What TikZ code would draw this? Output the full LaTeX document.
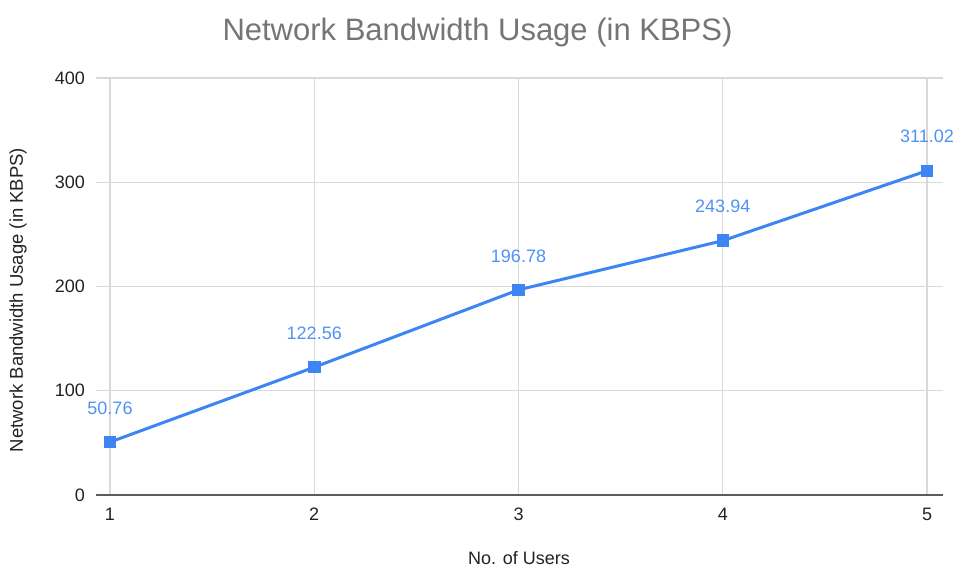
\documentclass[tikz,border=0pt]{standalone}
\usepackage{fontspec}
\setmainfont{Liberation Sans}
\definecolor{series}{HTML}{3D85F2}
\definecolor{labelblue}{HTML}{4F92F6}
\definecolor{gridc}{HTML}{D9D9D9}
\definecolor{titlec}{HTML}{757575}
\definecolor{axisc}{HTML}{333333}
\definecolor{tickc}{HTML}{222222}
\tikzset{
  gridline/.style={draw=gridc, line width=1.2pt},
  baseline/.style={draw=axisc!80, line width=1.6pt},
  ticklabel/.style={text=tickc, font=\fontsize{18}{20}\selectfont, inner sep=0pt},
  datapt/.style={rectangle, fill=series, minimum size=12.5pt, inner sep=0pt},
  datalabel/.style={text=labelblue, font=\fontsize{18}{20}\selectfont, inner sep=0pt},
  seriesline/.style={draw=series, line width=3pt, line join=round}
}
\begin{document}
\begin{tikzpicture}[x=1pt,y=1pt]
\useasboundingbox (0,0) rectangle (958,567);
% chart title
\node[text=titlec, font=\fontsize{31}{34}\selectfont] (title) at (477.5,535) {Network Bandwidth Usage (in KBPS)};
% axis titles
\node[text=tickc, font=\fontsize{18.5}{20}\selectfont, rotate=90] (ytitle) at (18,267) {Network Bandwidth Usage (in KBPS)};
\node[text=tickc, font=\fontsize{18}{20}\selectfont, anchor=base, inner sep=0pt] (xtitle) at (519,2.5) {No. of Users};
% plot area: x = user index, y = KBPS
\begin{scope}[shift={(110,72)}, x=204.25pt, y=1.0425pt]
  % horizontal grid and y tick labels
  \foreach \v in {100,200,300,400}{
    \draw[gridline] (-0.0685,\v) -- (4.078,\v);
  }
  \foreach \v in {0,100,200,300,400}{
    \node[ticklabel, anchor=east] (yl\v) at (-0.122,\v) {\v};
  }
  % vertical grid and x tick labels
  \foreach \i in {1,...,5}{
    \draw[gridline] (\i-1,0) -- (\i-1,400);
    \node[ticklabel, anchor=north] (xl\i) at (\i-1,-12.5) {\i};
  }
  % zero line
  \draw[baseline] (-0.0685,0) -- (4.078,0);
  % data points
  \node[datapt] (p1) at (0,50.76) {};
  \node[datapt] (p2) at (1,122.56) {};
  \node[datapt] (p3) at (2,196.78) {};
  \node[datapt] (p4) at (3,243.94) {};
  \node[datapt] (p5) at (4,311.02) {};
  \draw[seriesline] (p1.center) -- (p2.center) -- (p3.center) -- (p4.center) -- (p5.center);
  \foreach \n in {1,...,5}{ \node[datapt] at (p\n) {}; }
  % value labels
  \node[datalabel] (l1) at ([yshift=34pt]p1) {50.76};
  \node[datalabel] (l2) at ([yshift=34pt]p2) {122.56};
  \node[datalabel] (l3) at ([yshift=34pt]p3) {196.78};
  \node[datalabel] (l4) at ([yshift=34pt]p4) {243.94};
  \node[datalabel] (l5) at ([yshift=34pt]p5) {311.02};
\end{scope}
\end{tikzpicture}
\end{document}
